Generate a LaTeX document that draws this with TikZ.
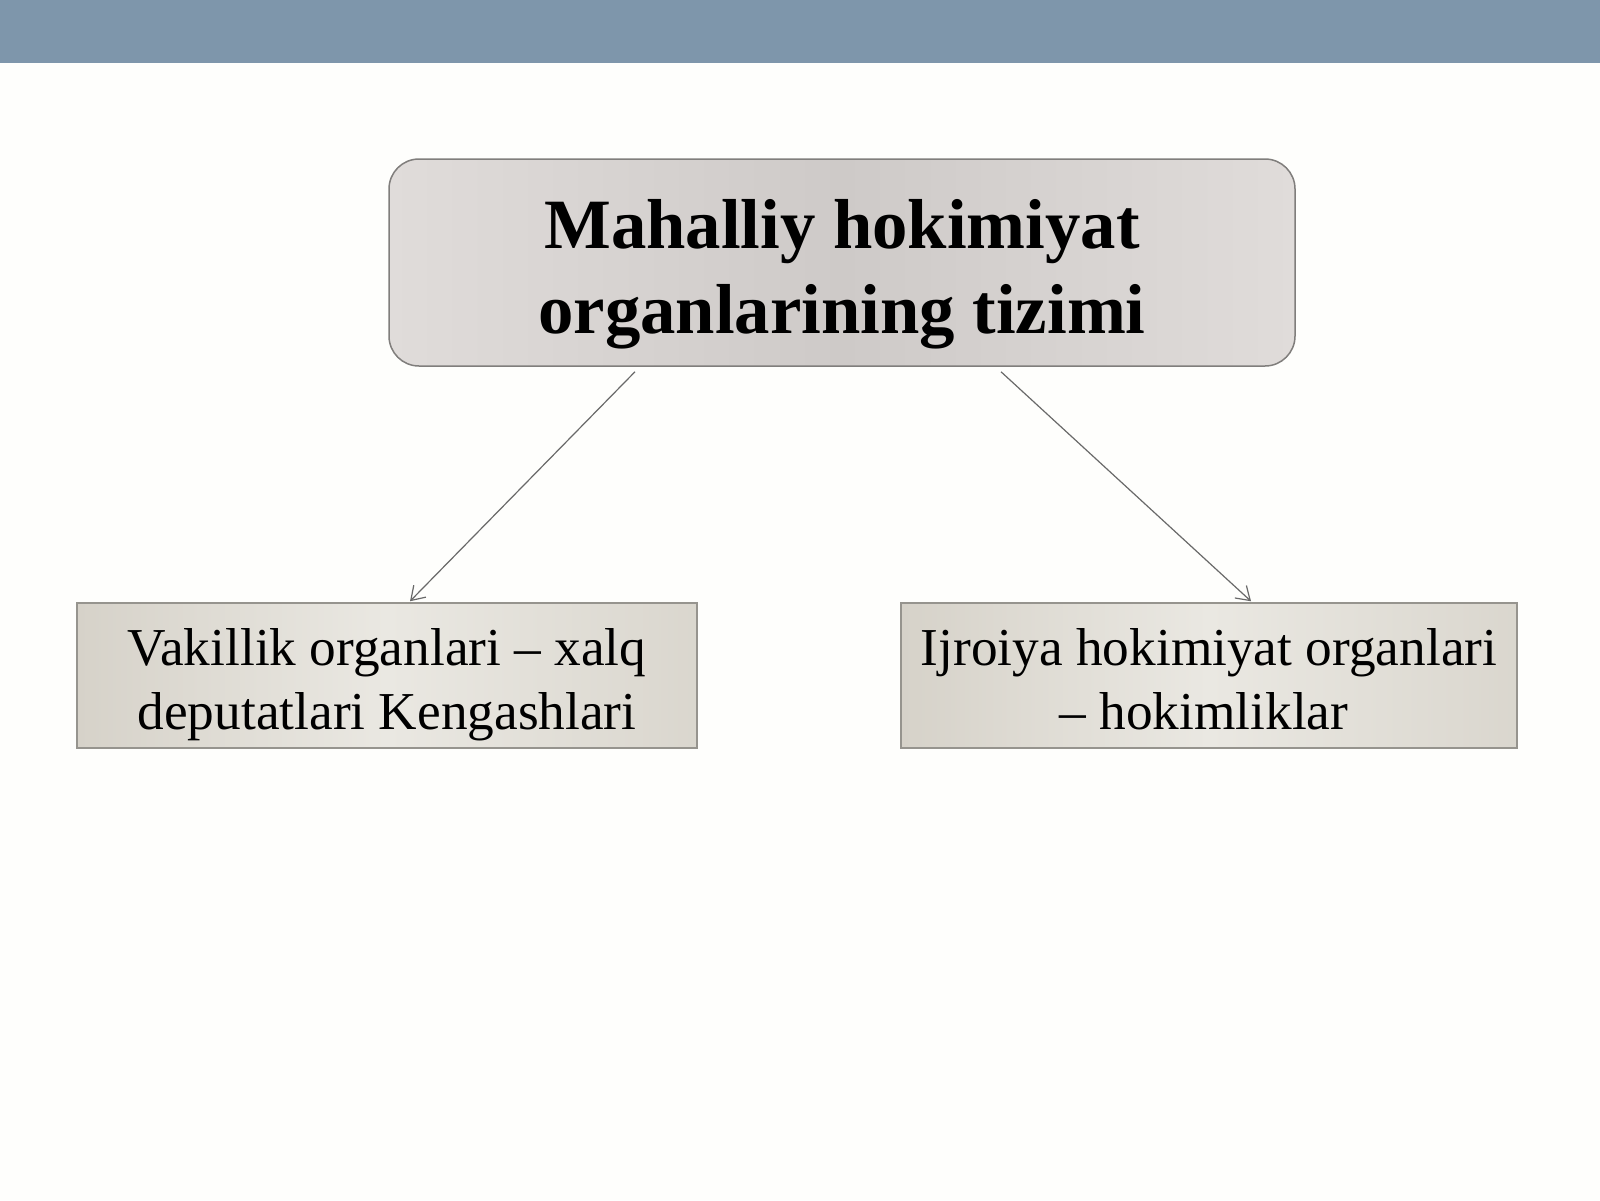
\documentclass[tikz,border=0pt]{standalone}
\usepackage{fontspec}
\setmainfont{Liberation Serif}
\usetikzlibrary{arrows.meta}
\definecolor{headbar}{RGB}{126,150,171}
\definecolor{bgcol}{RGB}{254,254,252}
\definecolor{topborder}{RGB}{128,126,124}
\definecolor{topedge}{RGB}{224,220,218}
\definecolor{topmid}{RGB}{206,202,200}
\definecolor{subborder}{RGB}{150,148,142}
\definecolor{subedge}{RGB}{214,210,201}
\definecolor{submid}{RGB}{234,232,226}
\definecolor{arrowcol}{RGB}{105,105,105}
\begin{document}
\begin{tikzpicture}[x=1bp,y=-1bp,
  topbox/.style={draw=topborder, line width=1.5bp, rounded corners=30bp,
    minimum width=906bp, minimum height=207bp, inner sep=0pt,
    left color=topedge, right color=topedge, middle color=topmid},
  subbox/.style={draw=subborder, line width=1.5bp,
    minimum width=620bp, minimum height=145bp, inner sep=0pt,
    left color=subedge, right color=subedge!80!submid, middle color=submid},
  toptext/.style={anchor=base, inner sep=0pt, font=\fontsize{71}{85}\selectfont\bfseries},
  subtext/.style={anchor=base, inner sep=0pt, font=\fontsize{53.5}{63}\selectfont},
  conn/.style={draw=arrowcol, line width=1.2bp,
    -{Straight Barb[length=13bp,width=17bp,line width=1.2bp]}}]
\useasboundingbox (0,0) rectangle (1600,1200);
\fill[bgcol] (0,0) rectangle (1600,1200);
\fill[headbar] (0,0) rectangle (1600,63);
% boxes
\node[topbox] (top) at (842,262.5) {};
\node[subbox] (left) at (387,675.5) {};
\node[subbox, minimum width=616bp] (right) at (1209,675.5) {};
% texts
\node[toptext] (top1) at (842,248) {Mahalliy hokimiyat};
\node[toptext] (top2) at (842,333) {organlarining tizimi};
\node[subtext] (left1) at (387,665) {Vakillik organlari – xalq};
\node[subtext] (left2) at (387,729) {deputatlari Kengashlari};
\node[subtext] (right1) at (1209,665) {Ijroiya hokimiyat organlari};
\node[subtext] (right2) at (1204,729) {– hokimliklar};
% connectors
\draw[conn] ([shift={(-207,5)}]top.south) -- ([shift={(23,-1)}]left.north);
\draw[conn] ([shift={(159,5)}]top.south) -- ([shift={(42,-1)}]right.north);
\end{tikzpicture}
\end{document}
